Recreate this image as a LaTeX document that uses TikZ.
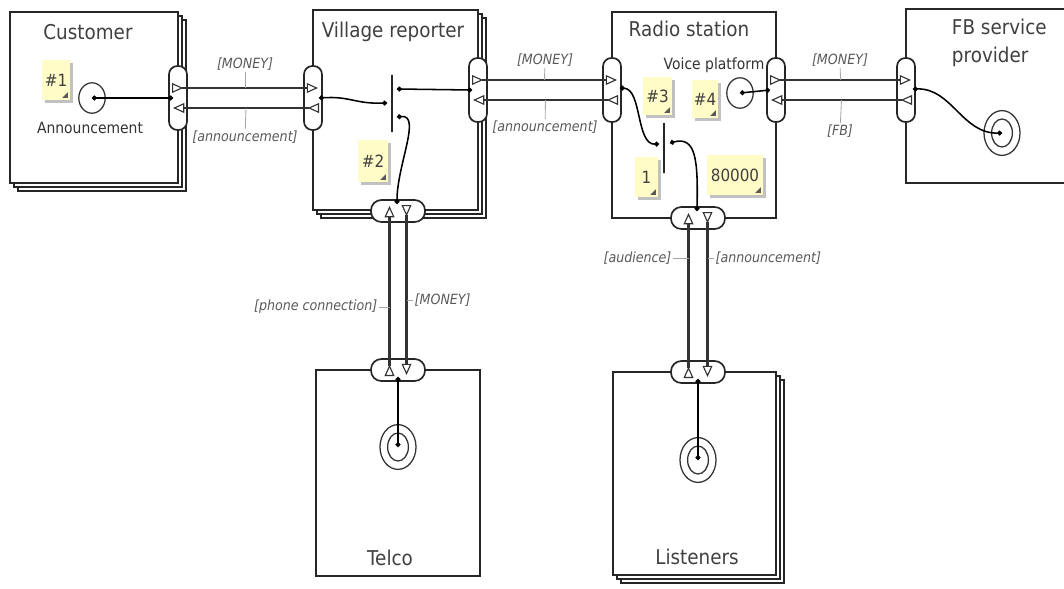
\documentclass[tikz,border=0pt]{standalone}
\usepackage{fontspec}
\setsansfont{DejaVu Sans}[FakeStretch=0.9]
\renewcommand{\familydefault}{\sfdefault}
\usetikzlibrary{arrows.meta,shadows,shapes.geometric,positioning}

\tikzset{
  actor/.style={draw=black!85, line width=1.4pt, fill=white, inner sep=0pt},
  segment/.style={actor, double copy shadow={shadow xshift=2.8pt, shadow yshift=-2.8pt}},
  vport/.style={draw=black!85, line width=1.2pt, fill=white, inner sep=0pt,
    minimum width=0.45cm, minimum height=1.6cm, rounded corners=0.21cm},
  hport/.style={draw=black!85, line width=1.2pt, fill=white, inner sep=0pt,
    minimum width=1.35cm, minimum height=0.55cm, rounded corners=0.26cm},
  vt/.style={line width=1.9pt, draw=black!80,
    {Triangle[open,reversed,length=8pt,width=7pt,line width=0.8pt]}-{Triangle[open,length=8pt,width=7pt,line width=0.8pt]}},
  vlabel/.style={font=\fontsize{10}{12}\selectfont\itshape, text=black!65, inner sep=1pt},
  tick/.style={draw=black!35, line width=0.6pt},
  title/.style={font=\fontsize{14.5}{20}\selectfont, text=black!75},
  caption/.style={font=\fontsize{11}{13}\selectfont, text=black!80},
  dep/.style={draw=black, line width=1.1pt, {Circle[length=3.4pt]}-{Circle[length=3.4pt]}},
  andbar/.style={draw=black!85, line width=1.2pt, inner sep=0pt, minimum width=0pt},
  startstim/.style={ellipse, draw=black!80, line width=0.9pt, inner sep=0pt,
    minimum width=0.66cm, minimum height=0.76cm},
  endstim/.style={ellipse, draw=black!80, line width=0.9pt, inner sep=0pt,
    minimum width=0.9cm, minimum height=1.12cm,
    path picture={\draw [black!80, line width=0.9pt] (path picture bounding box.center)
      ellipse [x radius=0.26cm, y radius=0.35cm];}},
  note/.style={fill=yellow!22, inner sep=0pt, font=\fontsize{12}{14}\selectfont, text=black!75,
    drop shadow={shadow xshift=2pt, shadow yshift=-2pt, fill=black!30, opacity=0.8},
    path picture={\fill [black!65] ([shift={(-1.5pt,1.5pt)}]path picture bounding box.south east)
      -- ++(0,4pt) -- ++(-4pt,-4pt) -- cycle;}}
}

\begin{document}
\begin{tikzpicture}[x=0.025cm, y=-0.025cm]
\useasboundingbox (0,0) rectangle (1064,588);

% actors and market segments
\node [segment, minimum width=4.2cm, minimum height=4.275cm] (cust) at (94,97.5) {};
\node [segment, minimum width=4.125cm, minimum height=5cm] (vr) at (395.5,110) {};
\node [actor, minimum width=4.1cm, minimum height=5.15cm] (radio) at (694,115) {};
\node [actor, minimum width=4.6cm, minimum height=4.35cm] (fb) at (998,96) {};
\node [actor, minimum width=4.1cm, minimum height=5.15cm] (telco) at (398,473) {};
\node [segment, minimum width=4.075cm, minimum height=5.075cm] (lis) at (694.5,473.5) {};

\node [title] (cust-title) at (88,32) {Customer};
\node [title] (vr-title) at (393,32) {Village reporter};
\node [title] (radio-title) at (689,29) {Radio station};
\node [title, align=left, anchor=north west] (fb-title) at (947,14) {FB service\\provider};
\node [title] (telco-title) at (390,558) {Telco};
\node [title] (lis-title) at (697,557) {Listeners};

% value interfaces
\node [vport] (cust-e) at (178,98) {};
\node [vport] (vr-w) at (313,98) {};
\node [vport] (vr-e) at (478,90) {};
\node [hport] (vr-s) at (398,211) {};
\node [vport] (radio-w) at (612,90) {};
\node [vport] (radio-e) at (776,90) {};
\node [hport] (radio-s) at (698,218) {};
\node [vport] (fb-w) at (906,90) {};
\node [hport] (telco-n) at (398,370) {};
\node [hport] (lis-n) at (698,372) {};

% value transfers
\draw [vt] ([shift={(-6,-10)}]cust-e.center) -- coordinate (m1) ([shift={(5,-10)}]vr-w.center);
\draw [vt] ([shift={(6,10)}]vr-w.center) -- coordinate (m2) ([shift={(-5,10)}]cust-e.center);
\draw [vt] ([shift={(-6,-10)}]vr-e.center) -- coordinate (m3) ([shift={(5,-10)}]radio-w.center);
\draw [vt] ([shift={(6,10)}]radio-w.center) -- coordinate (m4) ([shift={(-5,10)}]vr-e.center);
\draw [vt] ([shift={(-6,-10)}]radio-e.center) -- coordinate (m5) ([shift={(5,-10)}]fb-w.center);
\draw [vt] ([shift={(6,10)}]fb-w.center) -- coordinate (m6) ([shift={(-5,10)}]radio-e.center);

\draw [vt] ([shift={(-8.5,6)}]telco-n.center) -- coordinate (m7) ([shift={(-8.5,-5)}]vr-s.center);
\draw [vt] ([shift={(8.5,-6)}]vr-s.center) -- coordinate (m8) ([shift={(8.5,5)}]telco-n.center);
\draw [vt] ([shift={(-9.5,6)}]lis-n.center) -- coordinate (m9) ([shift={(-9.5,-5)}]radio-s.center);
\draw [vt] ([shift={(9.5,-6)}]radio-s.center) -- coordinate (m10) ([shift={(9.5,5)}]lis-n.center);

\node [vlabel] (l1) at (245,64) {[MONEY]};
\node [vlabel] (l2) at (245,137) {[announcement]};
\node [vlabel] (l3) at (545,60) {[MONEY]};
\node [vlabel] (l4) at (545,127) {[announcement]};
\node [vlabel] (l5) at (840,60) {[MONEY]};
\node [vlabel] (l6) at (840,131) {[FB]};
\node [vlabel, anchor=east] (l7) at (379,307) {[phone connection]};
\node [vlabel, anchor=west] (l8) at (413,300) {[MONEY]};
\node [vlabel, anchor=east] (l9) at (673,258) {[audience]};
\node [vlabel, anchor=west] (l10) at (714,258) {[announcement]};

\draw [tick] (l1) -- (m1);
\draw [tick] (l2) -- (m2);
\draw [tick] (l3) -- (m3);
\draw [tick] (l4) -- (m4);
\draw [tick] (l5) -- (m5);
\draw [tick] (l6) -- (m6);
\draw [tick] (l7.east) -- (l7.east -| m7);
\draw [tick] (l8.west) -- (l8.west -| m8);
\draw [tick] (l9.east) -- (l9.east -| m9);
\draw [tick] (l10.west) -- (l10.west -| m10);

% customer
\node [note, minimum width=0.7cm, minimum height=1cm] (n1) at (56,80) {\#1};
\node [startstim] (s1) at (92,98) {};
\node [caption] (s1-text) at (90,128) {Announcement};
\draw [dep] (s1.center) -- ([shift={(-5,0)}]cust-e.center);

% village reporter
\node [note, minimum width=0.75cm, minimum height=1.05cm] (n2) at (373,161) {\#2};
\node [andbar, minimum height=1.425cm] (and1) at (392,103.5) {};
\draw [dep] ([shift={(6,0)}]vr-w.center) .. controls (350,96) and (355,104) .. (387,103);
\draw [dep] (397,89) -- ([shift={(-6,0)}]vr-e.center);
\draw [dep] (397,117) .. controls (422,114) and (397,165) .. ([shift={(-1,-7)}]vr-s.center);

% radio station
\node [caption] (s2-text) at (714,65) {Voice platform};
\node [note, minimum width=0.725cm, minimum height=0.95cm] (n3) at (657.5,96) {\#3};
\node [note, minimum width=0.65cm, minimum height=0.95cm] (n4) at (705,99) {\#4};
\node [note, minimum width=0.575cm, minimum height=1cm] (n5) at (646.5,177) {1};
\node [note, minimum width=1.4cm, minimum height=1cm] (n6) at (735,175) {80000};
\node [startstim] (s2) at (740,93) {};
\draw [dep] (s2.center) -- ([shift={(-6,0)}]radio-e.center);
\node [andbar, minimum height=1.25cm] (or1) at (664,148) {};
\draw [dep] ([shift={(8,-2)}]radio-w.center) .. controls (642,89) and (636,145) .. (659,144);
\draw [dep] (670,143) .. controls (696,136) and (698,160) .. ([shift={(-1,-7)}]radio-s.center);

% end stimuli
\node [endstim] (e1) at (1002,133) {};
\draw [dep] ([shift={(7,-1)}]fb-w.center) .. controls (952,88) and (962,134) .. (e1.center);
\node [endstim] (e2) at (398,447) {};
\draw [dep] ([shift={(0,7)}]telco-n.center) -- (e2.center);
\node [endstim] (e3) at (698,460) {};
\draw [dep] ([shift={(0,7)}]lis-n.center) -- (e3.center);

\end{tikzpicture}
\end{document}
